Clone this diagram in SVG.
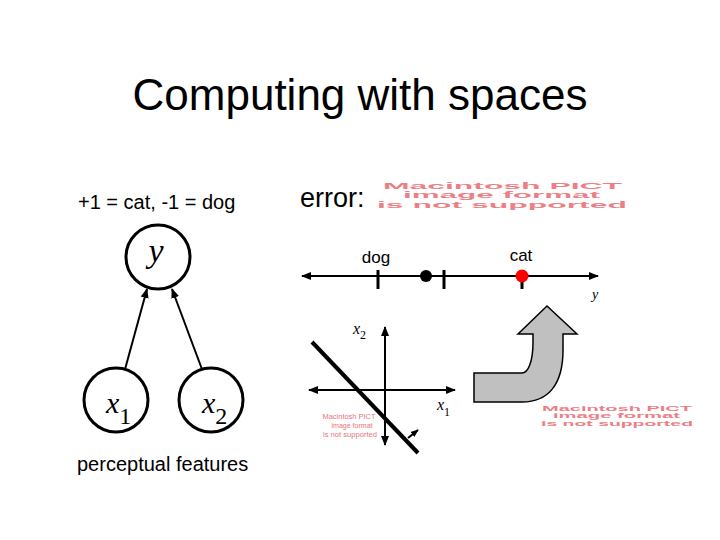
<svg xmlns="http://www.w3.org/2000/svg" width="720" height="540" viewBox="0 0 720 540">
<style>
.sans{font-family:"Liberation Sans",Arial,sans-serif;fill:#000}
.ser{font-family:"Liberation Serif","Times New Roman",serif;fill:#000}
.it{font-style:italic}
.node{fill:#fff;stroke:#000;stroke-width:3}
.ln{stroke:#000;stroke-width:2;fill:none}
.pict{font-family:"Liberation Sans",Arial,sans-serif;font-weight:bold;fill:#ec7f86}
.pictn{font-family:"Liberation Sans",Arial,sans-serif;fill:#e8737b}
</style>
<defs>
<marker id="ah" viewBox="0 0 10 10" refX="9" refY="5" markerWidth="5" markerHeight="5" orient="auto-start-reverse" markerUnits="strokeWidth">
<path d="M0,1 L10,5 L0,9 Z" fill="#000"/>
</marker>
<marker id="ah2" viewBox="0 0 10 10" refX="9" refY="5" markerWidth="4" markerHeight="4" orient="auto-start-reverse" markerUnits="strokeWidth">
<path d="M0,1 L10,5 L0,9 Z" fill="#000"/>
</marker>
</defs>
<rect width="720" height="540" fill="#fff"/>
<text class="sans" x="360" y="110" font-size="44" text-anchor="middle">Computing with spaces</text>
<text class="sans" x="78" y="209" font-size="20">+1 = cat, -1 = dog</text>
<text class="sans" x="77" y="471" font-size="20">perceptual features</text>
<text class="sans" x="300" y="207" font-size="27">error:</text>
<g id="pict1">
<text class="pict" x="383" y="189" font-size="8.5" textLength="239" lengthAdjust="spacingAndGlyphs">Macintosh PICT</text>
<text class="pict" x="403" y="198" font-size="8.5" textLength="197" lengthAdjust="spacingAndGlyphs">image format</text>
<text class="pict" x="377" y="208" font-size="8.5" textLength="250" lengthAdjust="spacingAndGlyphs">is not supported</text>
</g>
<g id="connectors">
<line class="ln" x1="124" y1="373" x2="147" y2="289" marker-end="url(#ah)"/>
<line class="ln" x1="203" y1="372" x2="172" y2="289" marker-end="url(#ah)"/>
</g>
<g id="node-y">
<circle class="node" cx="158" cy="257" r="32"/>
<text class="ser it" x="156" y="262" font-size="34" text-anchor="middle">y</text>
</g>
<g id="node-x1">
<circle class="node" cx="116" cy="400" r="32"/>
<text class="ser" x="106" y="413" font-size="30"><tspan class="it">x</tspan><tspan font-size="24" dy="11">1</tspan></text>
</g>
<g id="node-x2">
<circle class="node" cx="211" cy="400" r="32"/>
<text class="ser" x="202" y="413" font-size="30"><tspan class="it">x</tspan><tspan font-size="24" dy="11">2</tspan></text>
</g>
<g id="numberline">
<line class="ln" x1="302" y1="276" x2="598" y2="276" marker-start="url(#ah)" marker-end="url(#ah)"/>
<line x1="378" y1="270" x2="378" y2="289" stroke="#000" stroke-width="3"/>
<line x1="444" y1="270" x2="444" y2="289" stroke="#000" stroke-width="3"/>
<line x1="522" y1="276" x2="522" y2="289" stroke="#000" stroke-width="3"/>
<circle cx="426" cy="276" r="6" fill="#000"/>
<circle cx="522" cy="276" r="6.5" fill="#f00"/>
<text class="sans" x="376" y="263" font-size="17" text-anchor="middle">dog</text>
<text class="sans" x="521" y="261" font-size="17" text-anchor="middle">cat</text>
<text class="ser it" x="592" y="299" font-size="14">y</text>
</g>
<g id="plot">
<line class="ln" x1="309" y1="390" x2="455" y2="390" marker-start="url(#ah)" marker-end="url(#ah)"/>
<line class="ln" x1="385" y1="327" x2="385" y2="445" marker-start="url(#ah)" marker-end="url(#ah)"/>
<line x1="312" y1="342" x2="418" y2="453" stroke="#000" stroke-width="4"/>
<line class="ln" x1="408" y1="438" x2="418" y2="430" marker-end="url(#ah2)"/>
<text class="ser" x="353" y="334" font-size="16"><tspan class="it">x</tspan><tspan font-size="12" dy="5">2</tspan></text>
<text class="ser" x="437" y="410" font-size="16"><tspan class="it">x</tspan><tspan font-size="12" dy="6">1</tspan></text>
<text class="pictn" x="349" y="419" font-size="8" text-anchor="middle" textLength="53" lengthAdjust="spacingAndGlyphs">Macintosh PICT</text>
<text class="pictn" x="352" y="428" font-size="8" text-anchor="middle" textLength="41" lengthAdjust="spacingAndGlyphs">image format</text>
<text class="pictn" x="350" y="437" font-size="8" text-anchor="middle" textLength="54" lengthAdjust="spacingAndGlyphs">is not supported</text>
</g>
<g id="curved-arrow">
<path d="M474,373 L522,373 C528,373 533,362 533,342 L533,334 L518,334 L547,306 L577,334 L563,334 L563,350 C563,385 548,402 522,402 L474,402 Z" fill="#c0c0c0" stroke="#000" stroke-width="1.5"/>
</g>
<g id="pict3">
<text class="pict" x="542" y="410.5" font-size="6.5" textLength="150" lengthAdjust="spacingAndGlyphs">Macintosh PICT</text>
<text class="pict" x="553" y="418" font-size="6.5" textLength="127" lengthAdjust="spacingAndGlyphs">image format</text>
<text class="pict" x="541" y="425.5" font-size="6.5" textLength="152" lengthAdjust="spacingAndGlyphs">is not supported</text>
</g>
</svg>
